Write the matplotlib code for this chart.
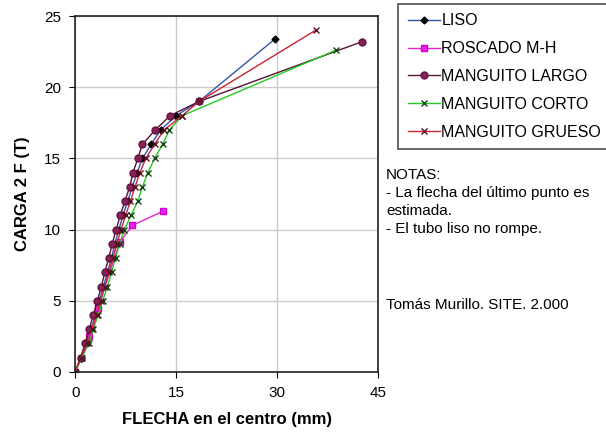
import numpy as np
import matplotlib.pyplot as plt

plt.rcParams['font.family'] = ['Liberation Sans', 'DejaVu Sans']

# cargas (T)
carga = [0, 1, 2, 3, 4, 5, 6, 7, 8, 9, 10, 11, 12, 13, 14, 15, 16, 17, 18]

# flechas (mm)
liso_x = [0, 0.9, 1.7, 2.4, 3.0, 3.6, 4.2, 4.8, 5.4, 5.9, 6.5, 7.1, 7.8, 8.5, 9.2, 10.0, 11.3, 12.7, 15.0, 18.4, 29.7]
liso_y = carga + [19, 23.4]

roscado_x = [0, 2.1, 3.4, 6.6, 8.5, 13.1]
roscado_y = [0, 2.5, 4.5, 9.1, 10.3, 11.3]

largo_x = [0, 0.8, 1.5, 2.1, 2.7, 3.3, 3.9, 4.4, 5.0, 5.5, 6.1, 6.7, 7.4, 8.1, 8.6, 9.3, 10.0, 11.9, 14.1, 18.4, 42.6]
largo_y = carga + [19, 23.2]

corto_x = [0, 1.0, 2.0, 2.7, 3.4, 4.1, 4.8, 5.4, 6.0, 6.6, 7.3, 8.3, 9.3, 10.0, 10.8, 11.8, 13.0, 14.0, 15.9, 38.7]
corto_y = carga + [22.6]

grueso_x = [0, 0.9, 1.8, 2.5, 3.2, 3.8, 4.4, 5.0, 5.6, 6.2, 6.8, 7.5, 8.2, 8.9, 9.6, 10.5, 11.8, 13.2, 15.9, 18.4, 35.7]
grueso_y = carga + [19, 24.0]

fig = plt.figure(figsize=(6.06, 4.34), dpi=100)
ax = fig.add_axes([0.124, 0.143, 0.50, 0.82])

ax.plot(liso_x, liso_y, color='#3355aa', lw=1, marker='D', ms=3.5,
        mfc='black', mec='black', label='LISO')
ax.plot(roscado_x, roscado_y, color='#ee22cc', lw=1, marker='s', ms=5,
        mfc='#ee22ee', mec='#cc00cc', label='ROSCADO M-H')
ax.plot(largo_x, largo_y, color='#551133', lw=1, marker='o', ms=5,
        mfc='#882255', mec='#661144', label='MANGUITO LARGO')
ax.plot(corto_x, corto_y, color='#22cc22', lw=1, marker='x', ms=4.5,
        mec='#114411', mew=1, label='MANGUITO CORTO')
ax.plot(grueso_x, grueso_y, color='#cc2233', lw=1, marker='x', ms=4.5,
        mec='#551122', mew=1, label='MANGUITO GRUESO')

ax.set_xlim(0, 45)
ax.set_ylim(0, 25)
ax.set_xticks([0, 15, 30, 45])
ax.set_yticks([0, 5, 10, 15, 20, 25])
ax.grid(True, color='#cccccc', lw=1)
ax.set_axisbelow(True)
ax.tick_params(direction='out', labelsize=11, length=4, pad=6)
for s in ax.spines.values():
    s.set_color('#222222')
    s.set_linewidth(1.2)

ax.set_xlabel('FLECHA en el centro (mm)', fontsize=12, fontweight='bold', labelpad=9)
ax.set_ylabel('CARGA 2 F (T)', fontsize=12, fontweight='bold', labelpad=10)

leg = fig.legend(loc='upper left', bbox_to_anchor=(0.657, 0.991), fontsize=11.5,
                 frameon=True, fancybox=False, edgecolor='#222222',
                 handlelength=2.0, handletextpad=0.1, labelspacing=0.8,
                 borderpad=0.6, borderaxespad=0)
leg.get_frame().set_linewidth(1.2)

fig.text(0.637, 0.613, 'NOTAS:\n- La flecha del último punto es\nestimada.\n- El tubo liso no rompe.',
         fontsize=11, va='top', ha='left', linespacing=1.38)
fig.text(0.637, 0.297, 'Tomás Murillo. SITE. 2.000', fontsize=11, va='center', ha='left')

fig.savefig('out.png', dpi=100)
